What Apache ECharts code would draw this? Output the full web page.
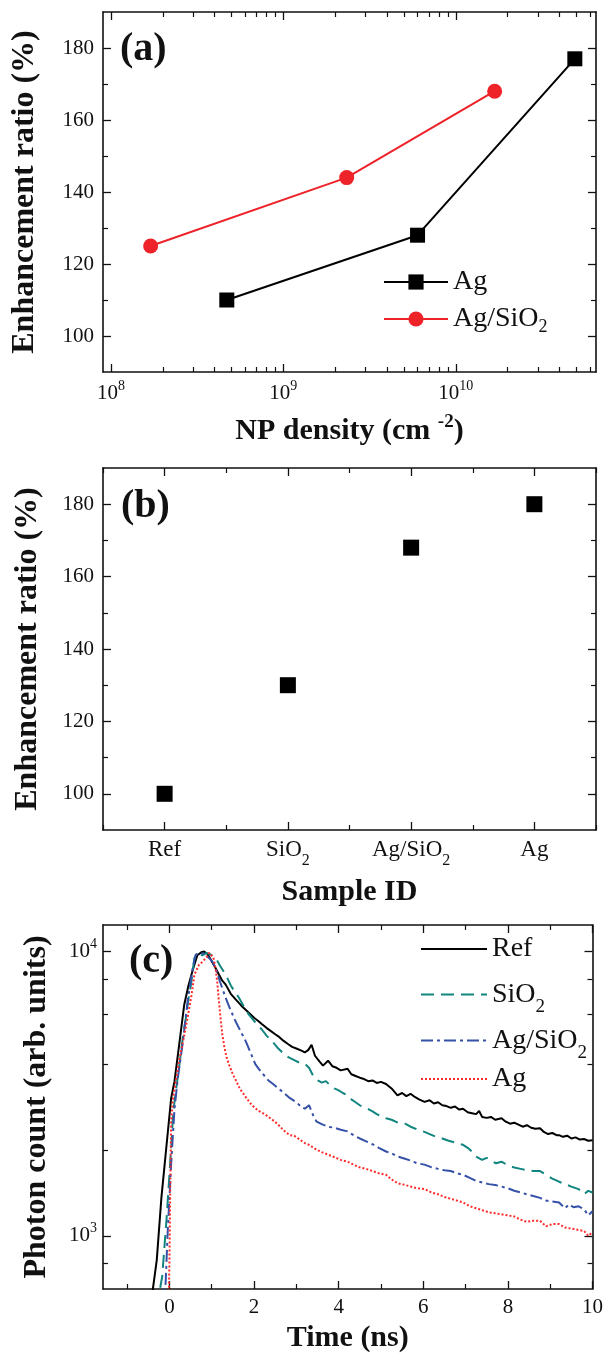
<!DOCTYPE html>
<html>
<head>
<meta charset="utf-8">
<script src="https://cdn.jsdelivr.net/npm/echarts@6/dist/echarts.min.js"></script>
<style>
  html, body { margin: 0; padding: 0; background: #fff; }
  #chart { width: 606px; height: 1354px; }
</style>
</head>
<body>
<div id="chart"></div>
<script>
// ---- data ----
// (a) enhancement ratio vs NP density
const densityAg = [4.7e8, 6.0e9, 4.9e10]
const ratioAg = [110, 128, 177]
const densityAgSiO2 = [1.7e8, 2.33e9, 1.68e10]
const ratioAgSiO2 = [125, 144, 168]

// (b) enhancement ratio per sample
const sampleIds = ['Ref', 'SiO2', 'Ag/SiO2', 'Ag']
const sampleRatio = [100, 130, 168, 180]

// (c) decay curves, [time (ns), photon count]
const decayRef = [
  [-0.45, 560], [-0.3, 820], [-0.19, 1360], [-0.08, 2000], [0.04, 3040], [0.12, 3500], [0.23, 4700],
  [0.35, 6500], [0.45, 7600], [0.55, 8600], [0.66, 9700], [0.76, 9950], [0.82, 10000], [0.9, 9800],
  [0.98, 9350], [1.08, 8800], [1.17, 8300], [1.25, 7900], [1.33, 7650], [1.45, 7100], [1.56, 6800],
  [1.7, 6450], [1.87, 6100], [2.0, 5850], [2.1, 5700], [2.19, 5550], [2.3, 5380], [2.4, 5250],
  [2.5, 5120], [2.6, 5000], [2.7, 4850], [2.81, 4720], [2.9, 4620], [3.0, 4560], [3.12, 4480],
  [3.2, 4420], [3.28, 4500], [3.36, 4700], [3.44, 4300], [3.55, 4100], [3.63, 3970], [3.75, 4130],
  [3.85, 3950], [3.95, 3900], [4.05, 3820], [4.21, 3870], [4.3, 3700], [4.4, 3650], [4.5, 3600],
  [4.6, 3560], [4.7, 3500], [4.8, 3520], [4.9, 3450], [5.0, 3480], [5.12, 3420], [5.25, 3300],
  [5.39, 3120], [5.5, 3180], [5.6, 3100], [5.7, 3160], [5.8, 3080], [5.9, 3020], [6.03, 2960],
  [6.15, 3000], [6.25, 2920], [6.35, 2950], [6.45, 2880], [6.55, 2860], [6.65, 2820], [6.75, 2850],
  [6.85, 2780], [6.94, 2800], [7.05, 2720], [7.15, 2700], [7.25, 2680], [7.32, 2750], [7.39, 2620],
  [7.5, 2600], [7.6, 2620], [7.7, 2560], [7.85, 2590], [7.95, 2520], [8.05, 2480], [8.15, 2500],
  [8.25, 2460], [8.35, 2420], [8.45, 2450], [8.55, 2400], [8.65, 2380], [8.76, 2390], [8.85, 2320],
  [8.95, 2280], [9.05, 2300], [9.15, 2260], [9.21, 2260], [9.3, 2230], [9.4, 2250], [9.5, 2200],
  [9.6, 2220], [9.7, 2180], [9.8, 2190], [9.9, 2160], [10.0, 2170]
]
const decaySiO2 = [
  [-0.3, 560], [-0.17, 720], [-0.06, 1190], [0.04, 2030], [0.09, 2730], [0.16, 3300], [0.23, 3930],
  [0.31, 4900], [0.39, 5860], [0.45, 6800], [0.51, 7650], [0.59, 9500], [0.68, 9800], [0.78, 9700],
  [0.88, 9900], [0.98, 9750], [1.09, 9500], [1.2, 8900], [1.33, 8290], [1.45, 7600], [1.55, 7200],
  [1.64, 6890], [1.75, 6450], [1.87, 6020], [2.0, 5700], [2.1, 5480], [2.18, 5330], [2.3, 5050],
  [2.42, 4850], [2.55, 4600], [2.68, 4400], [2.81, 4250], [2.95, 4150], [3.05, 4080], [3.2, 4030],
  [3.3, 3900], [3.4, 3650], [3.51, 3520], [3.6, 3460], [3.7, 3500], [3.8, 3380], [3.9, 3300],
  [4.0, 3250], [4.1, 3180], [4.21, 3120], [4.3, 3020], [4.4, 2950], [4.5, 2880], [4.6, 2820],
  [4.7, 2790], [4.8, 2740], [4.9, 2680], [5.0, 2640], [5.12, 2590], [5.25, 2560], [5.4, 2500],
  [5.57, 2480], [5.7, 2420], [5.85, 2370], [6.03, 2320], [6.15, 2280], [6.3, 2230], [6.45, 2200],
  [6.6, 2160], [6.75, 2130], [6.94, 2090], [7.05, 2040], [7.15, 1980], [7.25, 1900], [7.39, 1850],
  [7.5, 1880], [7.6, 1840], [7.72, 1800], [7.85, 1823], [8.0, 1770], [8.15, 1740], [8.3, 1720],
  [8.45, 1700], [8.6, 1690], [8.76, 1690], [8.9, 1640], [9.05, 1590], [9.21, 1550], [9.35, 1520],
  [9.5, 1490], [9.67, 1460], [9.8, 1400], [9.9, 1440], [10.0, 1420]
]
const decayAgSiO2 = [
  [-0.2, 560], [-0.09, 680], [-0.04, 1040], [0.04, 1780], [0.12, 2800], [0.2, 3600], [0.31, 4720],
  [0.43, 6690], [0.55, 8750], [0.62, 9740], [0.7, 9900], [0.8, 9850], [0.94, 9480], [1.02, 9200],
  [1.09, 8750], [1.2, 7800], [1.33, 6870], [1.45, 6200], [1.56, 5700], [1.68, 5250], [1.8, 4850],
  [1.92, 4400], [2.03, 4020], [2.15, 3800], [2.25, 3650], [2.34, 3520], [2.45, 3420], [2.6, 3280],
  [2.73, 3160], [2.85, 3050], [3.0, 2950], [3.12, 2840], [3.2, 2800], [3.3, 2880], [3.4, 2650],
  [3.48, 2520], [3.6, 2470], [3.75, 2420], [3.9, 2400], [4.05, 2360], [4.21, 2330], [4.35, 2260],
  [4.5, 2200], [4.65, 2150], [4.8, 2100], [4.95, 2040], [5.12, 1980], [5.25, 1950], [5.4, 1900],
  [5.55, 1870], [5.7, 1840], [5.85, 1800], [6.03, 1780], [6.2, 1740], [6.35, 1720], [6.5, 1700],
  [6.65, 1690], [6.8, 1660], [6.94, 1640], [7.1, 1600], [7.25, 1560], [7.4, 1540], [7.55, 1520],
  [7.7, 1510], [7.85, 1490], [8.0, 1470], [8.15, 1440], [8.3, 1420], [8.45, 1400], [8.6, 1380],
  [8.76, 1360], [8.9, 1330], [9.05, 1320], [9.21, 1310], [9.35, 1250], [9.45, 1290], [9.55, 1260],
  [9.67, 1270], [9.8, 1240], [9.9, 1180], [10.0, 1220]
]
const decayAg = [
  [-0.02, 560], [0.0, 800], [0.02, 1500], [0.04, 2500], [0.08, 3000], [0.15, 3500], [0.23, 4130],
  [0.33, 4900], [0.43, 5860], [0.52, 7000], [0.59, 8290], [0.7, 8990], [0.78, 9200], [0.86, 9480],
  [0.94, 9900], [0.98, 10000], [1.04, 9500], [1.09, 8750], [1.13, 7800], [1.17, 6690], [1.21, 5800],
  [1.25, 5120], [1.3, 4600], [1.35, 4250], [1.41, 4000], [1.5, 3700], [1.58, 3500], [1.66, 3300],
  [1.8, 3080], [1.95, 2880], [2.11, 2750], [2.25, 2680], [2.39, 2590], [2.55, 2480], [2.7, 2350],
  [2.84, 2260], [2.95, 2250], [3.1, 2170], [3.2, 2120], [3.3, 2090], [3.45, 2020], [3.6, 1970],
  [3.75, 1930], [3.9, 1890], [4.05, 1850], [4.21, 1823], [4.35, 1780], [4.5, 1740], [4.65, 1720],
  [4.8, 1690], [4.95, 1660], [5.12, 1640], [5.25, 1580], [5.4, 1530], [5.57, 1510], [5.7, 1490],
  [5.85, 1470], [6.03, 1460], [6.2, 1420], [6.35, 1400], [6.5, 1370], [6.65, 1350], [6.8, 1330],
  [6.94, 1310], [7.1, 1270], [7.25, 1250], [7.4, 1230], [7.55, 1210], [7.7, 1200], [7.85, 1190],
  [8.0, 1180], [8.15, 1170], [8.3, 1140], [8.45, 1120], [8.6, 1130], [8.76, 1130], [8.9, 1080],
  [9.05, 1100], [9.21, 1100], [9.35, 1070], [9.5, 1060], [9.65, 1050], [9.8, 1040], [9.9, 1000],
  [10.0, 1030]
]

// tick values
const densityMajor = [1e8, 1e9, 1e10]
const densityMinor = [2e8, 3e8, 4e8, 5e8, 6e8, 7e8, 8e8, 9e8, 2e9, 3e9, 4e9, 5e9, 6e9, 7e9, 8e9, 9e9,
  2e10, 3e10, 4e10, 5e10, 6e10]
const ratioMajor = [100, 120, 140, 160, 180]
const ratioMinor = [110, 130, 150, 170]
const timeMajor = [0, 2, 4, 6, 8, 10]
const timeMinor = [-1, 1, 3, 5, 7, 9]
const countMajor = [1000, 10000]
const countMinor = [800, 2000, 4000, 6000, 8000]

// ---- chart ----
const FONT = '"Liberation Serif", "Times New Roman", serif'
const INK = '#111'

const chart = echarts.init(document.getElementById('chart'))

const tickFont = { fontFamily: FONT, fontSize: 21, color: INK }
const supRich = {
  b: { fontFamily: FONT, fontSize: 21, color: INK, lineHeight: 26 },
  p: { fontFamily: FONT, fontSize: 14, color: INK, lineHeight: 26, padding: [0, 0, 14, 0] },
}
const subRich = {
  t: { fontFamily: FONT, fontSize: 23, color: INK, lineHeight: 28 },
  s: { fontFamily: FONT, fontSize: 16, color: INK, lineHeight: 28, padding: [22, 0, 0, 0] },
}
const powLabel = (v) => '{b|10}{p|' + Math.round(Math.log10(v)) + '}'
const subLabel = (v) => v.replace(/^(.*O)2$/, '{t|$1}{s|2}').replace(/^([^{].*)$/, '{t|$1}')

// one panel side = main axis (line, labels, long ticks) + axis with short minor ticks,
// mirrored on the opposite side without labels
function axisSet(dim, gridIndex, base, major, minor, label, name) {
  const sides = dim === 'x' ? ['bottom', 'top'] : ['left', 'right']
  const out = []
  sides.forEach((pos, i) => {
    const main = Object.assign({}, base, {
      gridIndex,
      position: pos,
      axisLine: { show: true, onZero: false, lineStyle: { color: INK, width: 1.6 } },
      axisTick: Object.assign({ show: true, inside: true, length: 8, lineStyle: { color: INK, width: 1.3 } }, major),
      axisLabel: i === 0 ? Object.assign({ show: true }, label) : { show: false },
      splitLine: { show: false },
    })
    if (i === 0 && name) Object.assign(main, name)
    out.push(main)
    out.push(Object.assign({}, base, {
      gridIndex,
      position: pos,
      axisLine: { show: false, onZero: false },
      axisTick: Object.assign({ show: true, inside: true, length: 5, lineStyle: { color: INK, width: 1.2 } }, minor),
      axisLabel: { show: false },
      splitLine: { show: false },
    }))
  })
  return out
}

const yNameStyle = { fontFamily: FONT, fontWeight: 'bold', fontSize: 32, color: INK }
const xNameStyle = { fontFamily: FONT, fontWeight: 'bold', fontSize: 30, color: INK }

const ratioAxisBase = { type: 'value', min: 90, max: 190 }
const ratioLabel = Object.assign({ customValues: ratioMajor, margin: 9 }, tickFont)

const xAxes = [].concat(
  axisSet('x', 0, { type: 'log', logBase: 10, min: 9e7, max: 6.5e10 },
    { customValues: densityMajor }, { customValues: densityMinor },
    { customValues: densityMajor, formatter: powLabel, rich: supRich, margin: 8 },
    {
      name: '{n|NP density (cm }{p|-2}{n|)}', nameLocation: 'middle', nameGap: 42,
      nameTextStyle: {
        rich: {
          n: Object.assign({ lineHeight: 34 }, xNameStyle),
          p: Object.assign({}, xNameStyle, { fontSize: 19, lineHeight: 34, padding: [0, 0, 18, 0] }),
        },
      },
    }),
  axisSet('x', 1, { type: 'category', data: sampleIds, boundaryGap: true },
    { alignWithLabel: true }, { alignWithLabel: false },
    { formatter: subLabel, rich: subRich, margin: 6 },
    { name: 'Sample ID', nameLocation: 'middle', nameGap: 47, nameTextStyle: xNameStyle }),
  axisSet('x', 2, { type: 'value', min: -1.57, max: 10 },
    { customValues: timeMajor }, { customValues: timeMinor },
    Object.assign({ customValues: timeMajor, margin: 8 }, tickFont),
    { name: 'Time (ns)', nameLocation: 'middle', nameGap: 34, nameTextStyle: xNameStyle })
)

const yAxes = [].concat(
  axisSet('y', 0, ratioAxisBase, { customValues: ratioMajor }, { customValues: ratioMinor }, ratioLabel,
    { name: 'Enhancement ratio (%)', nameLocation: 'middle', nameRotate: 90, nameGap: 62, nameTextStyle: yNameStyle }),
  axisSet('y', 1, ratioAxisBase, { customValues: ratioMajor }, { customValues: ratioMinor }, ratioLabel,
    { name: 'Enhancement ratio (%)', nameLocation: 'middle', nameRotate: 90, nameGap: 59, nameTextStyle: yNameStyle }),
  axisSet('y', 2, { type: 'log', logBase: 10, min: 650, max: 12400 },
    { customValues: countMajor }, { customValues: countMinor },
    { customValues: countMajor, formatter: powLabel, rich: supRich, margin: 6 },
    { name: 'Photon count (arb. units)', nameLocation: 'middle', nameRotate: 90, nameGap: 50, nameTextStyle: yNameStyle })
)

const legendRich = (subPad, subSize) => ({
  t: { fontFamily: FONT, fontSize: 28, color: INK, lineHeight: 30 },
  s: { fontFamily: FONT, fontSize: subSize, color: INK, lineHeight: 30, padding: [subPad, 0, 0, 0] },
})
const legendText = {
  aAg: '{t|Ag}', aAgSiO2: '{t|Ag/SiO}{s|2}',
  cRef: '{t|Ref}', cSiO2: '{t|SiO}{s|2}', cAgSiO2: '{t|Ag/SiO}{s|2}', cAg: '{t|Ag}',
}
function legendItem(name, left, top, width, height, rich, hideSymbol) {
  const item = {
    data: [name], left, top, padding: 0,
    itemWidth: width, itemHeight: height,
    selectedMode: false,
    formatter: (n) => legendText[n],
    textStyle: { rich },
  }
  if (hideSymbol) item.itemStyle = { opacity: 0 }
  return item
}

const option = {
  backgroundColor: '#fff',
  animation: false,
  grid: [
    { left: 103, top: 12, width: 493, height: 360 },
    { left: 103, top: 468, width: 493, height: 362 },
    { left: 103, top: 925, width: 494, height: 367 },
  ],
  xAxis: xAxes,
  yAxis: yAxes,
  title: [
    { text: '(a)', left: 120, top: 30 },
    { text: '(b)', left: 121, top: 487 },
    { text: '(c)', left: 129, top: 942 },
  ].map((t) => Object.assign(t, {
    padding: 0,
    textStyle: { fontFamily: FONT, fontWeight: 'bold', fontSize: 40, lineHeight: 40, color: INK },
  })),
  legend: [
    legendItem('aAg', 383, 268, 64, 19, legendRich(16, 18), false),
    legendItem('aAgSiO2', 383, 302, 64, 19, legendRich(16, 18), false),
    legendItem('cRef', 420, 935, 66, 12, legendRich(26, 19), true),
    legendItem('cSiO2', 420, 972, 66, 12, legendRich(26, 19), true),
    legendItem('cAgSiO2', 420, 1018, 66, 12, legendRich(26, 19), true),
    legendItem('cAg', 420, 1065, 66, 12, legendRich(26, 19), true),
  ],
  series: [
    {
      name: 'aAg', type: 'line', xAxisIndex: 0, yAxisIndex: 0,
      data: densityAg.map((d, i) => [d, ratioAg[i]]),
      symbol: 'rect', symbolSize: 15,
      itemStyle: { color: '#000' }, lineStyle: { color: '#000', width: 2 },
    },
    {
      name: 'aAgSiO2', type: 'line', xAxisIndex: 0, yAxisIndex: 0,
      data: densityAgSiO2.map((d, i) => [d, ratioAgSiO2[i]]),
      symbol: 'circle', symbolSize: 15,
      itemStyle: { color: '#ee2229' }, lineStyle: { color: '#ee2229', width: 2 },
    },
    {
      name: 'bRatio', type: 'scatter', xAxisIndex: 4, yAxisIndex: 4,
      data: sampleRatio,
      symbol: 'rect', symbolSize: 16,
      itemStyle: { color: '#000', opacity: 1 },
    },
    {
      name: 'cRef', type: 'line', xAxisIndex: 8, yAxisIndex: 8, data: decayRef,
      symbol: 'none', lineStyle: { color: '#000', width: 2 },
      itemStyle: { color: '#000' },
    },
    {
      name: 'cSiO2', type: 'line', xAxisIndex: 8, yAxisIndex: 8, data: decaySiO2,
      symbol: 'none', lineStyle: { color: '#11857f', width: 2, type: [13, 7] },
      itemStyle: { color: '#11857f' },
    },
    {
      name: 'cAgSiO2', type: 'line', xAxisIndex: 8, yAxisIndex: 8, data: decayAgSiO2,
      symbol: 'none', lineStyle: { color: '#3551a8', width: 2, type: [12, 4, 3, 4] },
      itemStyle: { color: '#3551a8' },
    },
    {
      name: 'cAg', type: 'line', xAxisIndex: 8, yAxisIndex: 8, data: decayAg,
      symbol: 'none', lineStyle: { color: '#ff2a2a', width: 2, type: [2, 2] },
      itemStyle: { color: '#ff2a2a' },
    },
  ],
}

chart.setOption(option)
</script>
</body>
</html>
